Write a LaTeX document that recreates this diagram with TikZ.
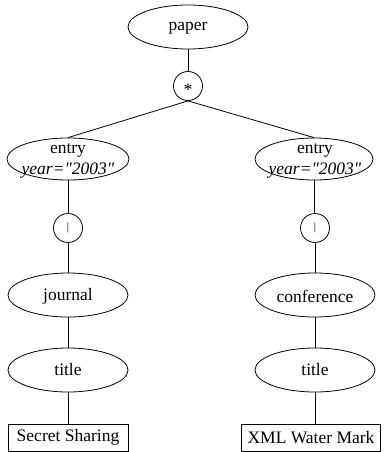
\documentclass[tikz,border=0pt]{standalone}
\usepackage{fontspec}
\setmainfont{Liberation Serif}[Ligatures=TeXOff]
\usetikzlibrary{shapes.geometric}
\begin{document}
\begin{tikzpicture}[x=1pt,y=-1pt,
  every path/.style={line width=0.8pt},
  ell/.style={ellipse, draw, line width=0.8pt, minimum width=120pt, minimum height=44pt, inner sep=0pt},
  circ/.style={circle, draw, line width=0.8pt, minimum size=29pt, inner sep=0pt},
  leaf/.style={rectangle, draw, line width=0.8pt, minimum height=27pt, inner xsep=6pt, font=\fontsize{17.5}{20}\selectfont},
  lbl/.style={font=\fontsize{17.5}{21}\selectfont, align=center, inner sep=0pt},
  op/.style={font=\fontsize{11}{12}\selectfont, inner sep=0pt}]
\useasboundingbox (0,0) rectangle (384,452);
% nodes
\node[ell] (paper) at (188,27) {};
\node[lbl] (paperT) at ([yshift=-1pt]paper.center) {paper};
\node[circ] (star) at (188,86) {};
\node[lbl] (starT) at ([yshift=-4pt]star.center) {*};
\node[ell, minimum width=122pt, minimum height=42pt] (entryL) at (68,159) {};
\node[lbl] (entryLT) at ([yshift=-2pt]entryL.center) {entry\\\textit{year="2003"}};
\node[ell, minimum width=118pt, minimum height=42pt] (entryR) at (314,159) {};
\node[lbl] (entryRT) at ([xshift=1pt,yshift=-2pt]entryR.center) {entry\\\textit{year="2003"}};
\node[circ] (barL) at (68,228) {};
\node[op] (barLT) at (barL.center) {|};
\node[circ] (barR) at (315,228) {};
\node[op] (barRT) at (barR.center) {|};
\node[ell] (journal) at (68,295) {};
\node[lbl] (journalT) at ([yshift=-1pt]journal.center) {journal};
\node[ell] (conf) at (315,295) {};
\node[lbl] (confT) at ([yshift=-1pt]conf.center) {conference};
\node[ell] (titleL) at (68,370) {};
\node[lbl] (titleLT) at (titleL.center) {title};
\node[ell] (titleR) at (315,370) {};
\node[lbl] (titleRT) at (titleR.center) {title};
\node[leaf, minimum width=120pt] (boxL) at (68,437.5) {Secret Sharing};
\node[leaf] (boxR) at (311,437.5) {XML Water Mark};
% connectors
\draw (paper) -- (star);
\draw (star.south) -- (entryL.north);
\draw (star.south) -- (entryR.north);
\draw (entryL.south) -- (barL);
\draw (entryR.south) -- (entryR.south |- barR.north);
\draw (barL) -- (journal);
\draw (barR) -- (conf);
\draw (journal) -- (titleL);
\draw (conf) -- (titleR);
\draw (titleL) -- (boxL);
\draw (titleR.south) -- (titleR.south |- boxR.north);
\end{tikzpicture}
\end{document}
